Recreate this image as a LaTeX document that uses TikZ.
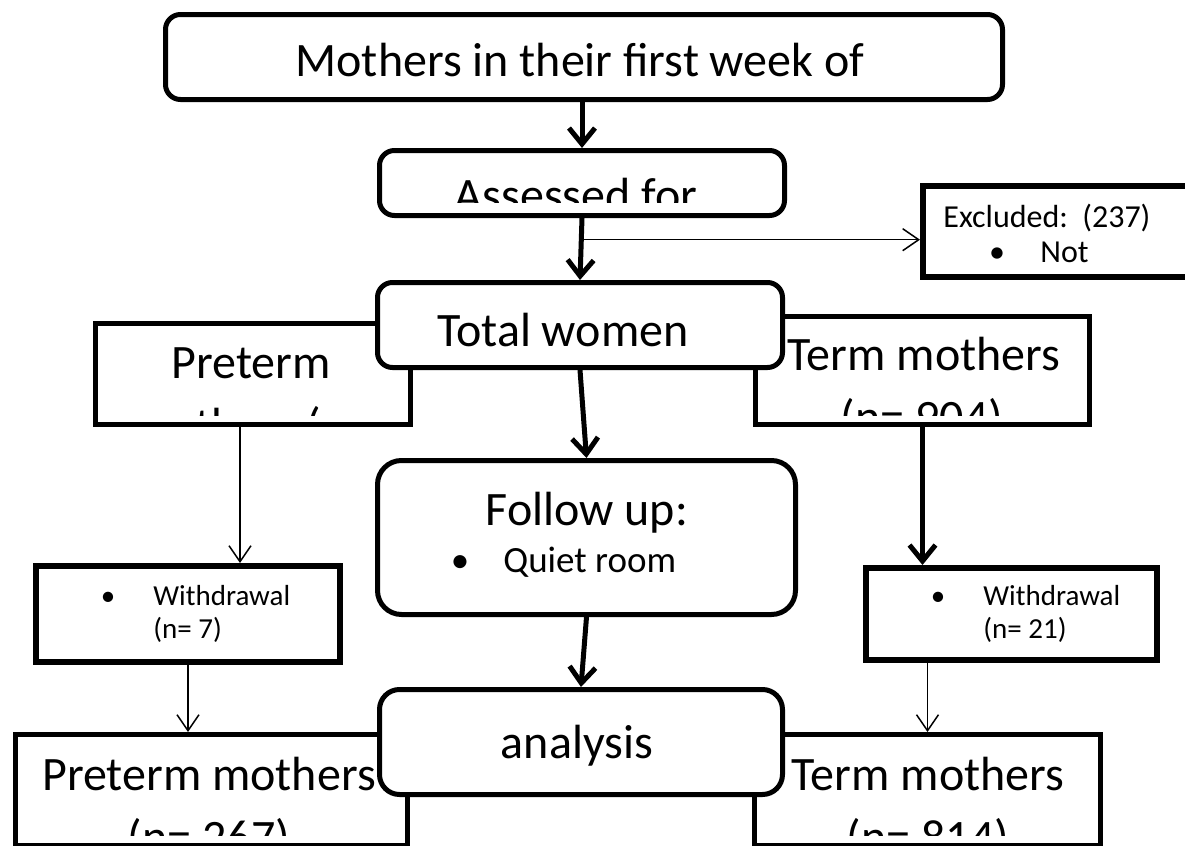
\documentclass[tikz,border=0pt]{standalone}
\usepackage{fontspec}
\setmainfont{Carlito}
\usetikzlibrary{arrows.meta, fit, calc}

\tikzset{
  rbox/.style={draw=black, line width=2.5pt, rounded corners=7.5pt, fill=white, inner sep=0pt},
  sbox/.style={draw=black, line width=2.5pt, fill=white, inner sep=0pt},
  wbox/.style={sbox, line width=3pt},
  bigtxt/.style={font=\fontsize{24}{28}\selectfont, inner sep=0pt, anchor=base},
  midtxt/.style={font=\fontsize{16}{19}\selectfont, inner sep=0pt, anchor=base west},
  smalltxt/.style={font=\fontsize{14.5}{17}\selectfont, inner sep=0pt, anchor=base west},
  thickarrow/.style={line width=2.5pt, -{Straight Barb[length=8pt,width=13pt]}},
  thinarrow/.style={line width=0.75pt, -{Straight Barb[length=8pt,width=11pt]}},
}

\begin{document}
\begin{tikzpicture}[x=0.5pt, y=-0.5pt]
  \useasboundingbox (0,0) rectangle (1185,846);
  % Top boxes
  \node[rbox, fit={(165.5,14.5) (1002.5,99.5)}] (mothers) {};
  \node[bigtxt] (motherstxt) at (580,76) {Mothers in their first week of};
  \node[rbox, fit={(379.5,150.5) (784.5,215.5)}] (assessed) {};
  \begin{scope}
    \clip ([shift={(6,-16)}]assessed.south west) rectangle ([shift={(-6,6)}]assessed.north east);
    \node[bigtxt] (assessedtxt) at (576,211) {Assessed for};
  \end{scope}
  % Excluded
  \node[wbox, fit={(923,186) (1210,277)}] (excluded) {};
  \node[midtxt] (excludedtxt) at (943,227) {Excluded:\ \ (237)};
  \node[midtxt, anchor=base] (excludedbul) at (997,262) {•};
  \node[midtxt] (nottxt) at (1040,262) {Not};
  % Preterm / term groups
  \node[sbox, fit={(95.5,323.5) (410.5,424.5)}] (preterm1) {};
  \begin{scope}
    \clip ([shift={(6,-12)}]preterm1.south west) rectangle ([shift={(-6,6)}]preterm1.north east);
    \node[bigtxt] (preterm1txt) at (251,378) {Preterm};
    \node[bigtxt] (preterm1txtb) at (251,441) {mothers (n=};
  \end{scope}
  \node[sbox, fit={(755.5,316.5) (1089.5,424.5)}] (term1) {};
  \begin{scope}
    \clip ([shift={(6,-12)}]term1.south west) rectangle ([shift={(-6,6)}]term1.north east);
    \node[bigtxt] (term1txt) at (924,370) {Term mothers};
    \node[bigtxt] (term1txtb) at (922,433) {(n= 904)};
  \end{scope}
  \node[rbox, fit={(377.5,282.5) (782.5,367.5)}] (total) {};
  \node[bigtxt] (totaltxt) at (563,346) {Total women};
  % Follow up
  \node[rbox, rounded corners=12pt, fit={(377.5,460.5) (795.5,614.5)}] (followup) {};
  \node[bigtxt] (followuptxt) at (587,525) {Follow up:};
  \node[midtxt, anchor=base, font=\fontsize{18.5}{21}\selectfont] (followupbul) at (460,572) {•};
  \node[midtxt, font=\fontsize{18.5}{21}\selectfont] (quiettxt) at (503,572) {Quiet room};
  % Withdrawal
  \node[wbox, fit={(36,566) (340,662)}] (withdrawl) {};
  \node[smalltxt, anchor=base] (withdrawlbul) at (108,605) {•};
  \node[smalltxt] (withdrawltxt) at (153,605) {Withdrawal};
  \node[smalltxt] (withdrawln) at (153,638) {(n= 7)};
  \node[wbox, fit={(866,568) (1157,660)}] (withdrawr) {};
  \node[smalltxt, anchor=base] (withdrawrbul) at (938,605) {•};
  \node[smalltxt] (withdrawrtxt) at (983,605) {Withdrawal};
  \node[smalltxt] (withdrawrn) at (983,638) {(n= 21)};
  % Bottom boxes
  \node[sbox, fit={(15.5,734.5) (407.5,845)}] (preterm2) {};
  \begin{scope}
    \clip ([shift={(6,-12)}]preterm2.south west) rectangle ([shift={(-6,6)}]preterm2.north east);
    \node[bigtxt] (preterm2txt) at (209,790) {Preterm mothers};
    \node[bigtxt] (preterm2txtb) at (209,853) {(n= 267)};
  \end{scope}
  \node[sbox, fit={(754.5,734.5) (1100.5,845)}] (term2) {};
  \begin{scope}
    \clip ([shift={(6,-12)}]term2.south west) rectangle ([shift={(-6,6)}]term2.north east);
    \node[bigtxt] (term2txt) at (928,790) {Term mothers};
    \node[bigtxt] (term2txtb) at (928,853) {(n= 814)};
  \end{scope}
  \node[rbox, rounded corners=10pt, fit={(379.5,689.5) (782.5,794.5)}] (analysis) {};
  \node[bigtxt] (analysistxt) at (577,758) {analysis};
  % Connectors
  \draw[thickarrow] (mothers.south -| assessed) -- (assessed.north);
  \draw[thickarrow] (assessed.south) -- (total.north);
  \coordinate (split) at ($(assessed.south)!0.35!(total.north)$);
  \draw[thinarrow] (split) -- (split -| excluded.west);
  \draw[thickarrow] (total.south) -- (followup.north);
  \draw[thickarrow] (followup.south) -- (analysis.north);
  \draw[thinarrow] ([shift={(-13,0)}]preterm1.south) -- ([shift={(-13,0)}]preterm1.south |- withdrawl.north);
  \draw[thickarrow] (term1.south) -- (term1.south |- withdrawr.north);
  \draw[thinarrow] (withdrawl.south) -- (withdrawl.south |- preterm2.north);
  \draw[thinarrow] (term2.north |- withdrawr.south) -- (term2.north);
\end{tikzpicture}
\end{document}
